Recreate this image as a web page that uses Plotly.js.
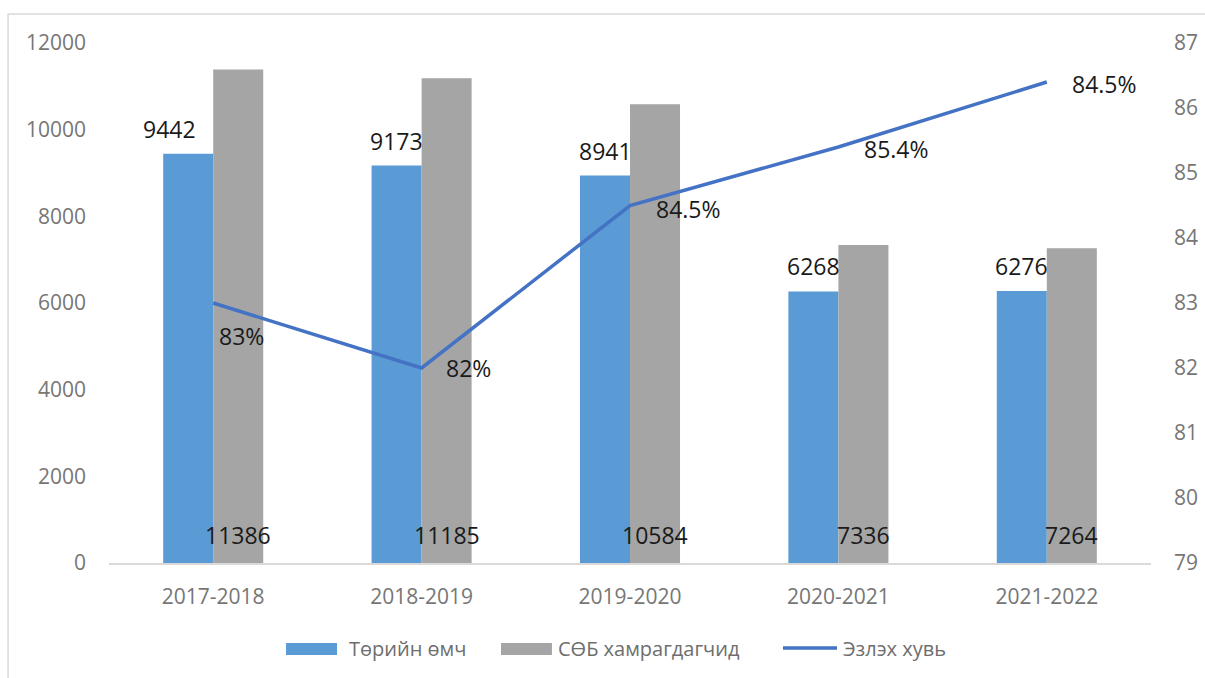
<!DOCTYPE html>
<html><head><meta charset="utf-8">
<script src="https://cdn.plot.ly/plotly-3.0.1.min.js"></script>
<style>html,body{margin:0;padding:0;background:#fff;}#chart{width:1205px;height:678px;}</style>
</head><body><div id="chart"></div>
<script>
const categories = ['2017-2018','2018-2019','2019-2020','2020-2021','2021-2022'];
const stateOwned = [9442, 9173, 8941, 6268, 6276];
const enrolled = [11386, 11185, 10584, 7336, 7264];
const sharePct = [83, 82, 84.5, 85.4, 86.4];
const shareLabels = ['83%','82%','84.5%','85.4%','84.5%'];
const seriesNames = ['Төрийн өмч','СӨБ хамрагдагчид','Эзлэх хувь'];

const FONT = '"Open Sans", "Noto Sans", sans-serif';
const tickFont = {family: FONT, size: 21, color: '#767676'};
const labelFont = {family: FONT, size: 23, color: '#1a1a1a'};
const legendFont = {family: FONT, size: 20, color: '#6e6e6e'};
const colors = ['#5B9BD5', '#A5A5A5', '#4472C4'];

const traces = [
  {type:'bar', name: seriesNames[0], x: categories, y: stateOwned, marker:{color:colors[0]}, hoverinfo:'skip'},
  {type:'bar', name: seriesNames[1], x: categories, y: enrolled, marker:{color:colors[1]}, hoverinfo:'skip'},
  {type:'scatter', mode:'lines', name: seriesNames[2], x: categories, y: sharePct, yaxis:'y2',
   line:{color:colors[2], width:3.5}, hoverinfo:'skip'}
];

const annotations = [];
const blueShift = [-44, -25, -25, -25, -25];
categories.forEach((c, i) => {
  annotations.push({x: c, y: stateOwned[i], xref:'x', yref:'y', text: String(stateOwned[i]),
    showarrow:false, xanchor:'center', yanchor:'bottom', xshift: blueShift[i], yshift: 7, font: labelFont});
  annotations.push({x: c, y: 0, xref:'x', yref:'y', text: String(enrolled[i]),
    showarrow:false, xanchor:'center', yanchor:'bottom', xshift: 25, yshift: 10, font: labelFont});
});
const lineShiftX = [4, 22, 24, 24, 23];
const lineShiftY = [-33, 0, -3, -2, -2];
categories.forEach((c, i) => {
  annotations.push({x: c, y: sharePct[i], xref:'x', yref:'y2', text: shareLabels[i],
    showarrow:false, xanchor:'left', yanchor:'middle', xshift: lineShiftX[i], yshift: lineShiftY[i], font: labelFont});
});

// custom legend (wide swatches as in the reference)
const legY = -0.1635;
const legTextX = [0.2284, 0.4290, 0.7025];
seriesNames.forEach((n, i) => {
  annotations.push({xref:'paper', yref:'paper', x: legTextX[i], y: legY, text: n, showarrow:false,
    xanchor:'left', yanchor:'middle', font: legendFont});
});

const layout = {
  width: 1205, height: 678,
  margin: {l:109, r:54, t:43, b:115},
  paper_bgcolor:'#ffffff', plot_bgcolor:'#ffffff',
  barmode:'group', bargap: 0.52, bargroupgap: 0,
  showlegend: false,
  xaxis: {type:'category', showgrid:false, showline:true, linecolor:'#d9d9d9', linewidth:1.5,
    ticks:'', tickfont: tickFont, ticklabelstandoff: 14, zeroline:false, fixedrange:true},
  yaxis: {range:[0,12000], dtick:2000, tickformat:'d', showgrid:false, showline:false, zeroline:false,
    ticks:'', tickfont: tickFont, ticklabelstandoff: 22, fixedrange:true},
  yaxis2: {range:[79,87], dtick:1, overlaying:'y', side:'right', showgrid:false, showline:false,
    zeroline:false, ticks:'', tickfont: tickFont, ticklabelstandoff: 22, fixedrange:true},
  annotations: annotations,
  shapes: [
    {type:'line', xref:'paper', yref:'paper', x0: -0.0969, x1: 1.1, y0: 1.0558, y1: 1.0558,
     line:{color:'#d9d9d9', width:1.5}},
    {type:'line', xref:'paper', yref:'paper', x0: -0.0969, x1: -0.0969, y0: 1.0558, y1: -0.3,
     line:{color:'#d9d9d9', width:1.5}},
    {type:'rect', xref:'paper', yref:'paper', x0: 0.1699, x1: 0.2188, y0: -0.1538, y1: -0.1769,
     fillcolor: colors[0], line:{width:0}},
    {type:'rect', xref:'paper', yref:'paper', x0: 0.3762, x1: 0.4251, y0: -0.1538, y1: -0.1769,
     fillcolor: colors[1], line:{width:0}},
    {type:'line', xref:'paper', yref:'paper', x0: 0.6468, x1: 0.6987, y0: legY, y1: legY,
     line:{color: colors[2], width:3.5}}
  ]
};

Plotly.newPlot('chart', traces, layout, {displayModeBar:false, staticPlot:true});
</script>
</body></html>
